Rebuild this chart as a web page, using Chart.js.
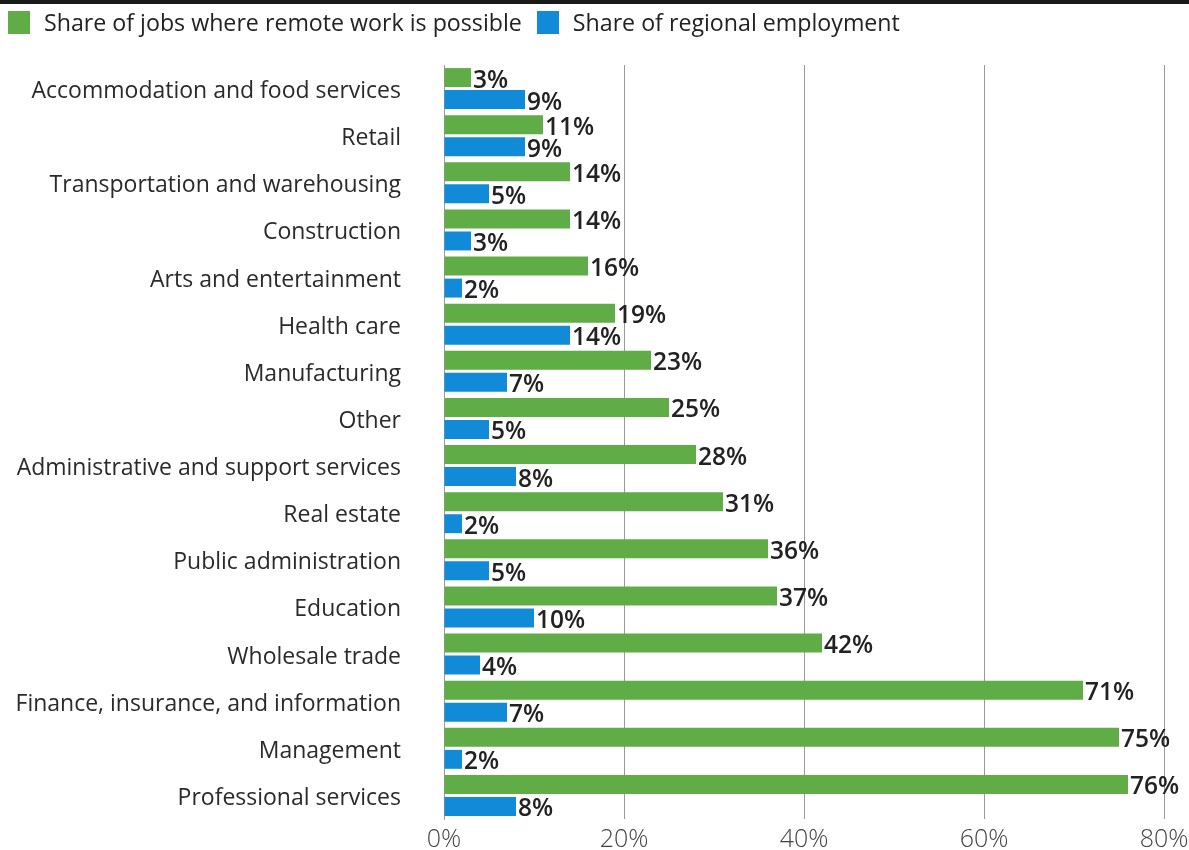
<!DOCTYPE html>
<html>
<head>
<meta charset="utf-8">
<script src="https://cdn.jsdelivr.net/npm/chart.js@4/dist/chart.umd.min.js"></script>
<style>
  html, body { margin: 0; padding: 0; background: #fff; }
  #wrap { position: relative; width: 1189px; height: 850px; overflow: hidden; }
  #remoteChart { position: absolute; left: 0; top: 0; }
  .rule { position: absolute; left: 0; top: 0; width: 1189px; height: 4px; background: #1a1a1a; }
  .legend { position: absolute; top: 6px; left: 8px; display: flex; align-items: center;
            font: 23.2px 'Open Sans', 'Noto Sans', sans-serif; color: #222; white-space: nowrap; }
  .legend .swatch { display: inline-block; width: 22px; height: 23px; margin-right: 14px; }
  .legend .item { display: flex; align-items: center; margin-right: 15px; }
</style>
</head>
<body>
<div id="wrap">
  <canvas id="remoteChart" width="1189" height="850"></canvas>
  <div class="rule"></div>
  <div class="legend" id="legend"></div>
</div>
<script>
// Industries, top to bottom
const industries = [
  'Accommodation and food services', 'Retail', 'Transportation and warehousing',
  'Construction', 'Arts and entertainment', 'Health care', 'Manufacturing', 'Other',
  'Administrative and support services', 'Real estate', 'Public administration',
  'Education', 'Wholesale trade', 'Finance, insurance, and information',
  'Management', 'Professional services'
];

// Percent of jobs that can be done remotely
const remoteShare = [3, 11, 14, 14, 16, 19, 23, 25, 28, 31, 36, 37, 42, 71, 75, 76];

// Percent of the region's employment in each industry
const employmentShare = [9, 9, 5, 3, 2, 14, 7, 5, 8, 2, 5, 10, 4, 7, 2, 8];

const xTicks = [0, 20, 40, 60, 80];

const FONT = "'Open Sans', 'Noto Sans', sans-serif";
const GREEN = '#60ad47';
const BLUE = '#118bd8';

// Percent labels just past the end of each bar
const valueLabels = {
  id: 'valueLabels',
  afterDatasetsDraw(chart) {
    const ctx = chart.ctx;
    ctx.save();
    ctx.font = '600 24.5px ' + FONT;
    ctx.fillStyle = '#222';
    ctx.textAlign = 'left';
    ctx.textBaseline = 'middle';
    chart.data.datasets.forEach((ds, i) => {
      chart.getDatasetMeta(i).data.forEach((bar, j) => {
        ctx.fillText(ds.data[j] + '%', bar.x + 2, bar.y + 3);
      });
    });
    ctx.restore();
  }
};

const chart = new Chart(document.getElementById('remoteChart'), {
  type: 'bar',
  data: {
    labels: industries,
    datasets: [
      {
        label: 'Share of jobs where remote work is possible',
        data: remoteShare,
        backgroundColor: GREEN,
        barPercentage: 0.86,
        categoryPercentage: 0.935
      },
      {
        label: 'Share of regional employment',
        data: employmentShare,
        backgroundColor: BLUE,
        barPercentage: 0.86,
        categoryPercentage: 0.935
      }
    ]
  },
  options: {
    indexAxis: 'y',
    responsive: false,
    animation: false,
    layout: { padding: { top: 65, right: 25, bottom: 0, left: 0 } },
    scales: {
      x: {
        min: 0,
        max: 80,
        afterBuildTicks(scale) {
          scale.ticks = xTicks.map(v => ({ value: v }));
        },
        afterFit(scale) {
          // fixed axis band; right edge comes from the layout padding
          scale.height = 31;
          scale.paddingLeft = 0;
          scale.paddingRight = 0;
        },
        ticks: {
          callback: v => v + '%',
          font: { family: FONT, size: 25, weight: '300' },
          color: '#444',
          padding: 6,
          maxRotation: 0
        },
        grid: { color: '#9a9a9a', lineWidth: 1, drawTicks: false },
        border: { display: false }
      },
      y: {
        afterFit(scale) {
          scale.width = 444;
          // the big label padding should not shrink the plot vertically
          scale.paddingTop = 0;
          scale.paddingBottom = 0;
        },
        ticks: {
          font: { family: FONT, size: 23 },
          color: '#2a2a2a',
          padding: 43,
          labelOffset: 3,
          autoSkip: false
        },
        grid: { display: false, drawTicks: false },
        border: { display: true, color: '#9a9a9a', width: 1 }
      }
    },
    plugins: {
      legend: { display: false },
      tooltip: { enabled: false }
    }
  },
  plugins: [valueLabels]
});

// Legend built from the dataset labels and colours
const legendEl = document.getElementById('legend');
chart.data.datasets.forEach(ds => {
  const item = document.createElement('span');
  item.className = 'item';
  const sw = document.createElement('span');
  sw.className = 'swatch';
  sw.style.background = ds.backgroundColor;
  item.appendChild(sw);
  item.appendChild(document.createTextNode(ds.label));
  legendEl.appendChild(item);
});
</script>
</body>
</html>
